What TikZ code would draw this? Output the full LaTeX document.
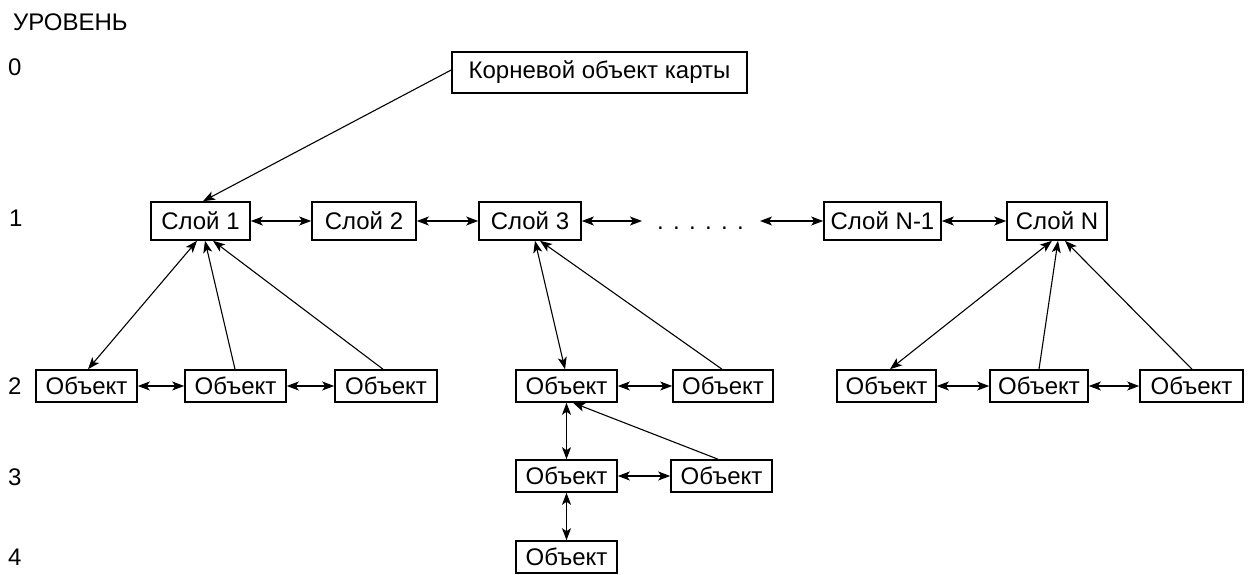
\documentclass[tikz,border=0pt]{standalone}
\usepackage{fontspec}
\setmainfont{Liberation Sans}
\usetikzlibrary{arrows.meta}
\begin{document}
\begin{tikzpicture}[x=1pt,y=-1pt,
  txt/.style={font=\fontsize{24}{27}\selectfont},
  box/.style={txt,draw,line width=1.6pt,inner sep=0pt,minimum height=32pt},
  lay/.style={box,minimum height=38pt},
  lbl/.style={txt,anchor=west,inner sep=0pt},
  tip/.tip={Stealth[length=12pt,width=9pt,inset=3pt]},
  con/.style={line width=1.1pt,-tip},
  dcon/.style={line width=1.1pt,tip-tip}]
\useasboundingbox (0,0) rectangle (1255,575);
% level labels
\node[lbl] (lv) at (13,22) {УРОВЕНЬ};
\node[lbl] (l0) at (8,67) {0};
\node[lbl] (l1) at (9,218) {1};
\node[lbl] (l2) at (8,386) {2};
\node[lbl] (l3) at (8,477) {3};
\node[lbl] (l4) at (8,557) {4};
% root
\node[box,minimum width=295pt,minimum height=41pt] (root) at (599.5,72.5) {Корневой объект карты};
% layers
\node[lay,minimum width=99pt]  (s1) at (200.5,221) {Слой 1};
\node[lay,minimum width=104pt] (s2) at (364,221) {Слой 2};
\node[lay,minimum width=102pt] (s3) at (530,221) {Слой 3};
\node[lay,minimum width=117pt] (sm) at (882.5,221) {Слой N-1};
\node[lay,minimum width=100pt] (sn) at (1057,221) {Слой N};
\node[txt,anchor=base west,inner sep=0pt] (dots) at (657,229.5)
  {.\hspace{9.3pt}.\hspace{9.3pt}.\hspace{9.3pt}.\hspace{9.3pt}.\hspace{9.3pt}.};
\coordinate (c1) at (642,221);
\coordinate (c2) at (760,221);
% level 2 objects
\node[box,minimum width=101pt] (o1) at (86.5,386) {Объект};
\node[box,minimum width=101pt] (o2) at (235.5,386) {Объект};
\node[box,minimum width=102pt] (o3) at (386,386) {Объект};
\node[box,minimum width=101pt] (m2) at (566.5,386) {Объект};
\node[box,minimum width=100pt] (r2) at (723,386) {Объект};
\node[box,minimum width=99pt]  (n1) at (886.5,386) {Объект};
\node[box,minimum width=98pt]  (n2) at (1039,386) {Объект};
\node[box,minimum width=103pt] (n3) at (1191.5,386) {Объект};
% level 3, 4
\node[box,minimum width=101pt] (m3) at (566.5,476) {Объект};
\node[box,minimum width=101pt] (r3) at (721.5,476) {Объект};
\node[box,minimum width=101pt] (m4) at (566.5,557) {Объект};
% connectors
\draw[con] ([yshift=2.5pt]root.west) -- ([xshift=2.5pt]s1.north);
\draw[dcon] (s1) -- (s2);
\draw[dcon] (s2) -- (s3);
\draw[dcon] (s3) -- (c1);
\draw[dcon] (c2) -- (sm);
\draw[dcon] (sm) -- (sn);
\draw[dcon] ([xshift=-3.5pt]s1.south) -- ([xshift=1.5pt]o1.north);
\draw[con] ([xshift=-0.5pt]o2.north) -- ([xshift=4.5pt]s1.south);
\draw[con] ([xshift=-3pt]o3.north) -- ([xshift=12.5pt]s1.south);
\draw[dcon] (o1) -- (o2);
\draw[dcon] (o2) -- (o3);
\draw[dcon] ([xshift=5pt]s3.south) -- ([xshift=-1.5pt]m2.north);
\draw[con] ([xshift=-1pt]r2.north) -- ([xshift=10pt]s3.south);
\draw[dcon] (m2) -- (r2);
\draw[dcon] (m2) -- (m3);
\draw[con] ([xshift=-3.5pt]r3.north) -- ([xshift=6.5pt]m2.south);
\draw[dcon] (m3) -- (r3);
\draw[dcon] (m3) -- (m4);
\draw[dcon] ([xshift=-5pt]sn.south) -- ([xshift=3.5pt]n1.north);
\draw[con] (n2.north) -- ([xshift=1pt]sn.south);
\draw[con] ([xshift=0.5pt]n3.north) -- ([xshift=8pt]sn.south);
\draw[dcon] (n1) -- (n2);
\draw[dcon] (n2) -- (n3);
\end{tikzpicture}
\end{document}
